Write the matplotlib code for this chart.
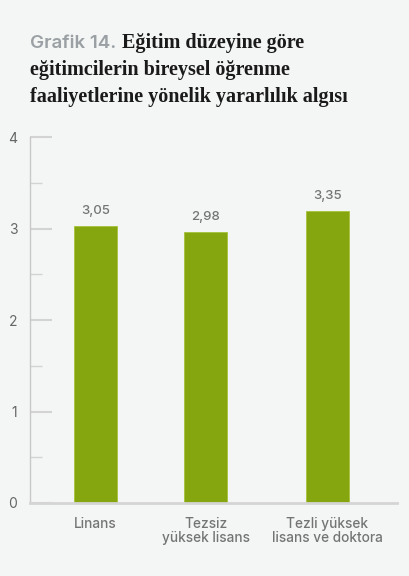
import matplotlib
matplotlib.use("Agg")
import matplotlib.pyplot as plt
from matplotlib.ticker import MultipleLocator

# ---------- data ----------
categories = ["Linans", "Tezsiz\nyüksek lisans", "Tezli yüksek\nlisans ve doktora"]
bar_heights = [3.03, 2.96, 3.19]          # heights as drawn in the source
value_labels = ["3,05", "2,98", "3,35"]   # printed labels
positions = [0, 1, 2.1]

BG = "#f4f6f5"
BAR = "#86a60f"
GRAY_TXT = "#747474"
SANS = ["Inter", "DejaVu Sans"]

fig = plt.figure(figsize=(4.10, 5.76), dpi=100, facecolor=BG)
ax = fig.add_axes([30 / 410, 73 / 576, 367 / 410, 366 / 576], facecolor=BG)

bars = ax.bar(positions, bar_heights, width=0.39, color=BAR, edgecolor="#a6c23a", linewidth=0.6, zorder=2)
for b, lab in zip(bars, value_labels):
    ax.annotate(lab, (b.get_x() + b.get_width() / 2, b.get_height()),
                xytext=(0, 6.5), textcoords="offset points", ha="center", va="bottom",
                fontsize=9.5, color=GRAY_TXT, family=SANS, weight="medium")

ax.set_ylim(0, 4)
ax.set_xlim(-0.593, 2.73)
ax.yaxis.set_major_locator(MultipleLocator(1))
ax.yaxis.set_minor_locator(MultipleLocator(0.5))
ax.tick_params(axis="y", which="major", direction="in", length=16, width=1.5,
               color="#d3d3d3", labelsize=10, labelcolor="#666666", pad=9)
ax.tick_params(axis="y", which="minor", direction="in", length=8.5, width=1, color="#d3d3d3")
for t in ax.get_yticklabels():
    t.set_family(SANS)

ax.set_xticks(positions)
ax.set_xticklabels(categories, fontsize=9.8, color=GRAY_TXT, family=SANS, weight="medium",
                   linespacing=1.0)
ax.tick_params(axis="x", length=0, pad=10)

for s in ("top", "right"):
    ax.spines[s].set_visible(False)
ax.spines["left"].set_color("#c8c8c8")
ax.spines["left"].set_linewidth(1)
ax.spines["bottom"].set_color("#d5d5d5")
ax.spines["bottom"].set_linewidth(2)

# ---------- title ----------
fig.text(30 / 410, 1 - 43 / 576, "Grafik 14.", fontsize=13.5, color="#9aa0a3",
         family=SANS, weight="semibold", va="center")
fig.text(122 / 410, 1 - 43 / 576, "Eğitim düzeyine göre", fontsize=14.5,
         family="Liberation Serif", weight="bold", color="#1a1a1a", va="center")
fig.text(30 / 410, 1 - 70 / 576, "eğitimcilerin bireysel öğrenme", fontsize=14.5,
         family="Liberation Serif", weight="bold", color="#1a1a1a", va="center")
fig.text(30 / 410, 1 - 97 / 576, "faaliyetlerine yönelik yararlılık algısı", fontsize=14.5,
         family="Liberation Serif", weight="bold", color="#1a1a1a", va="center")

fig.savefig("out.png", dpi=100, facecolor=BG)
